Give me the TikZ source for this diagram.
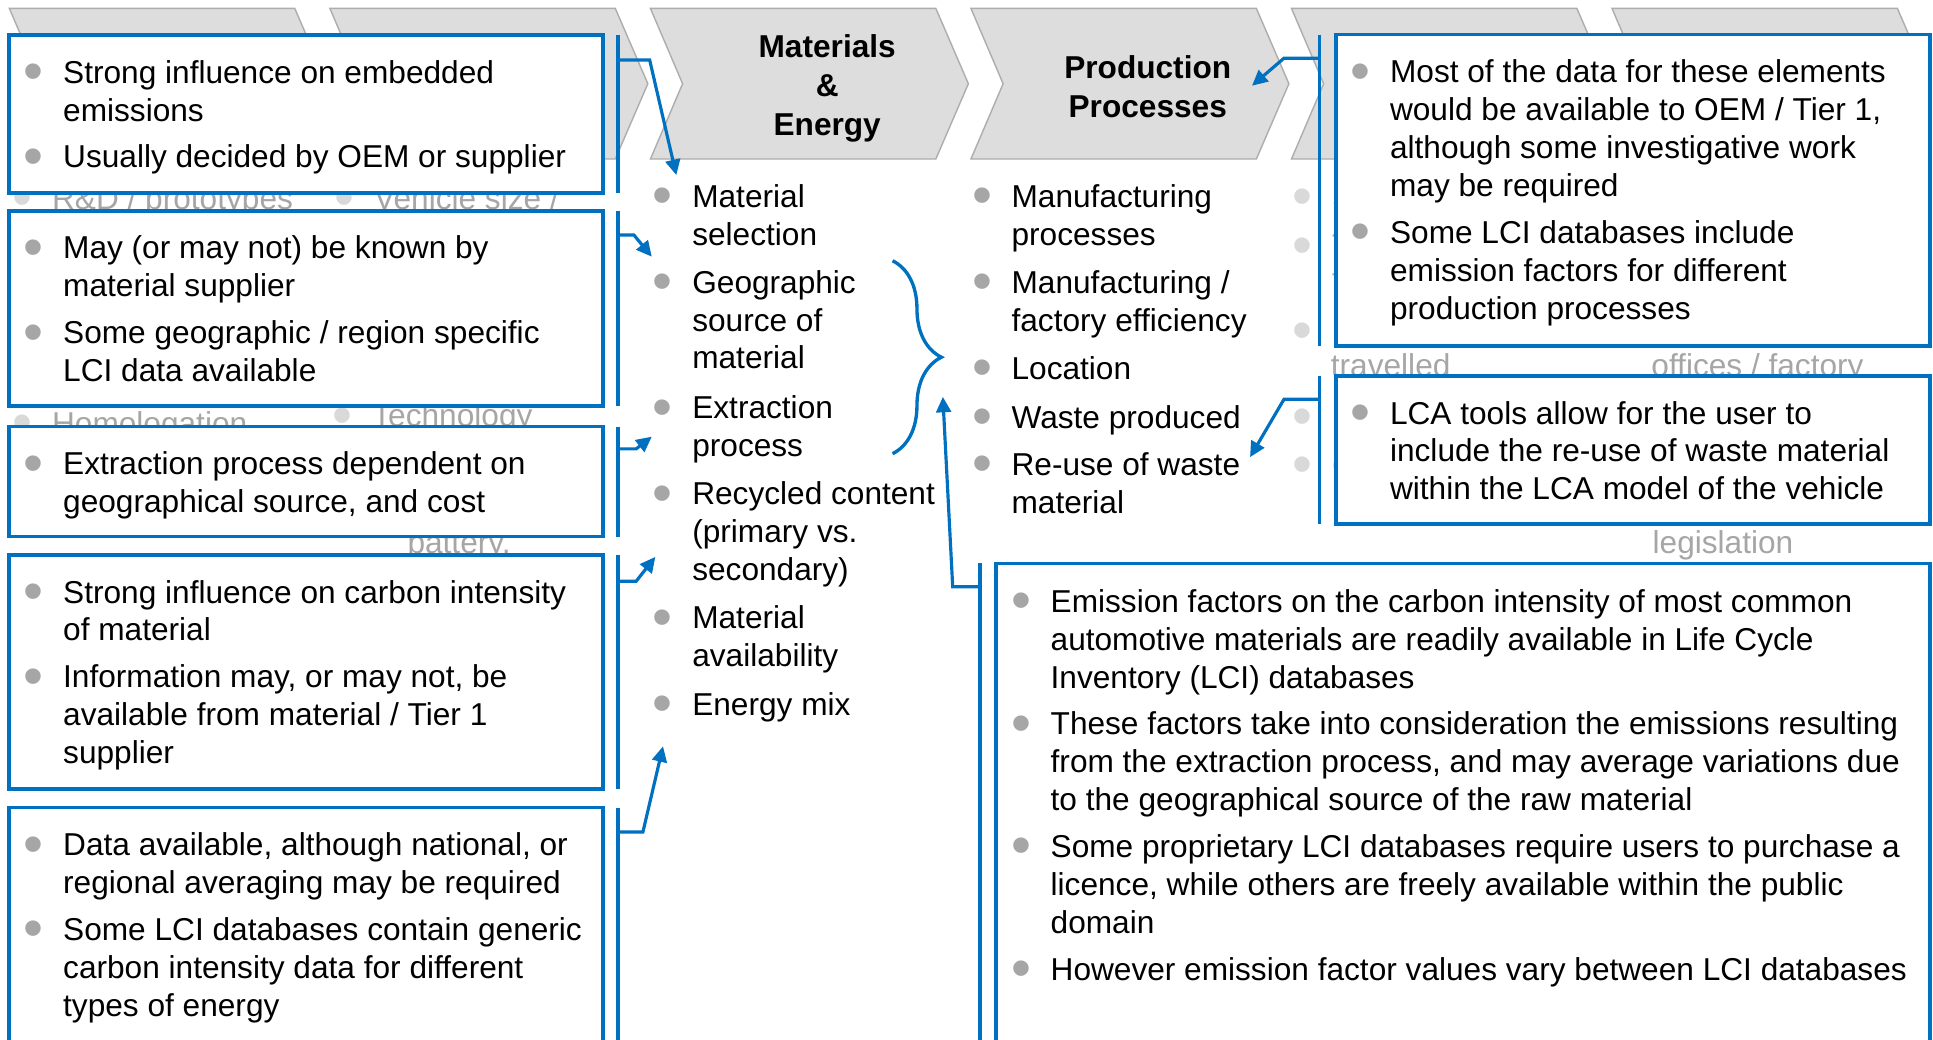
\documentclass[tikz,border=0pt]{standalone}
\usepackage{graphicx}
\usepackage{fontspec}
\setmainfont{Liberation Sans}
\usetikzlibrary{calc, arrows.meta, decorations.pathreplacing, fit, positioning}

\definecolor{lcablue}{HTML}{0070C0}
\definecolor{dotgray}{HTML}{A6A6A6}
\definecolor{fadetext}{HTML}{A6A6A6}
\definecolor{fadedot}{HTML}{D9D9D9}
\definecolor{chevfill}{HTML}{DDDDDD}
\definecolor{chevline}{HTML}{ADADAD}

\newcommand{\listfont}{\fontsize{9}{10.8}\selectfont}
\newcommand{\bul}[1][dotgray]{\rule{0pt}{7pt}\llap{\makebox[0pt]{\textcolor{#1}{\raisebox{-2.1pt}[0pt][0pt]{\scalebox{1.8}{•}}}}\hspace{8.4pt}}}

\begin{document}
\begin{tikzpicture}[x=0.012328cm, y=-0.012328cm,
    chev/.style={fill=chevfill, draw=chevline, line width=0.4pt},
    chevlabel/.style={align=center, inner sep=0pt, font=\fontsize{9}{11.1}\selectfont\bfseries},
    box/.style={draw=lcablue, line width=1.05pt, fill=white, inner sep=0pt, outer sep=0pt},
    txt/.style={anchor=north west, align=left, inner sep=0pt, font=\listfont},
    fade/.style={txt, text=fadetext},
    bar/.style={draw=lcablue, line width=1pt},
    link/.style={draw=lcablue, line width=0.9pt, -{Triangle[length=4.4pt,width=4.2pt]}},
    bracket/.style={draw=lcablue, line width=0.95pt, decorate, decoration={brace, amplitude=13.9pt}}]

\clip (0,0) rectangle (1568,843);
\fill[white] (0,0) rectangle (1568,843);

% stage chevrons
\foreach \i in {0,...,5}
  \draw[chev] ({7.6+260*\i},6.8) -- ++(231.5,0) -- ++(26.4,61.1) -- ++(-26.4,61.1)
    -- ++(-231.5,0) -- ++(26.1,-61.1) -- cycle;
\node[chevlabel] (matchev) at (671,71.3) {Materials\\\&\\Energy};
\node[chevlabel] (prodchev) at (931,70) {Production\\Processes};

% stage lists behind the boxes
\node[fade] (rnd) at (41.7,149) {\bul[fadedot]R\&D / prototypes};
\node[fade] (size) at (303,149) {\bul[fadedot]Vehicle size /};
\node[fade] (homol) at (41.7,332) {\bul[fadedot]Homologation};
\node[fade] (tech) at (301.5,325.6) {\bul[fadedot]Technology};
\node[fade] (batt) at (330,430) {battery,};
\node[fade] (use1) at (1080,148.5) {\bul[fadedot]S};
\node[fade] (use2) at (1080,187.7) {\bul[fadedot]T};
\node[fade] (use3) at (1080,218.8) {t};
\node[fade] (use4) at (1080,256.7) {\bul[fadedot]l};
\node[fade] (use5) at (1079,286) {travelled};
\node[fade] (use6) at (1080,327) {\bul[fadedot]l};
\node[fade] (use7) at (1080,366) {\bul[fadedot]C};
\node[fade] (eol1) at (1339,286) {offices / factory};
\node[fade] (eol2) at (1340,429.5) {legislation};

% note boxes
\node[box, fit={(7.2,28.4) (489,156.3)}] (selbox) {};
\node[box, fit={(7.2,170.9) (489,329.3)}] (geobox) {};
\node[box, fit={(7.2,346) (489,435.2)}] (extbox) {};
\node[box, fit={(7.2,450) (489,640.2)}] (recbox) {};
\node[box, fit={(7.2,655) (489,900)}] (mixbox) {};
\node[box, fit={(1083.5,28) (1565.6,280.4)}] (procbox) {};
\node[box, fit={(1083.5,304.8) (1565.6,425.3)}] (wastebox) {};
\node[box, fit={(808,457) (1565.6,900)}] (emisbox) {};

\node[txt] (seltext) at ($(selbox.north west)+(43.5,18.6)$)
  {\bul Strong influence on embedded\\emissions\\[2.5pt]
   \bul Usually decided by OEM or supplier};
\node[txt] (geotext) at ($(geobox.north west)+(43.5,18.6)$)
  {\bul May (or may not) be known by\\material supplier\\[2.5pt]
   \bul Some geographic / region specific\\LCI data available};
\node[txt] (exttext) at ($(extbox.north west)+(43.5,18.6)$)
  {\bul Extraction process dependent on\\geographical source, and cost};
\node[txt] (rectext) at ($(recbox.north west)+(43.5,18.6)$)
  {\bul Strong influence on carbon intensity\\of material\\[2.5pt]
   \bul Information may, or may not, be\\available from material / Tier 1\\supplier};
\node[txt] (mixtext) at ($(mixbox.north west)+(43.5,18.6)$)
  {\bul Data available, although national, or\\regional averaging may be required\\[2.5pt]
   \bul Some LCI databases contain generic\\carbon intensity data for different\\types of energy};
\node[txt] (proctext) at ($(procbox.north west)+(43.5,18.6)$)
  {\bul Most of the data for these elements\\would be available to OEM / Tier 1,\\although some investigative work\\may be required\\[2.5pt]
   \bul Some LCI databases include\\emission factors for different\\production processes};
\node[txt] (wastetext) at ($(wastebox.north west)+(43.5,18.6)$)
  {\bul LCA tools allow for the user to\\include the re-use of waste material\\within the LCA model of the vehicle};
\node[txt] (emistext) at ($(emisbox.north west)+(43.7,19)$)
  {\bul Emission factors on the carbon intensity of most common\\automotive materials are readily available in Life Cycle\\Inventory (LCI) databases\\[2.5pt]
   \bul These factors take into consideration the emissions resulting\\from the extraction process, and may average variations due\\to the geographical source of the raw material\\[2.5pt]
   \bul Some proprietary LCI databases require users to purchase a\\licence, while others are freely available within the public\\domain\\[2.5pt]
   \bul However emission factor values vary between LCI databases};

% stage items
\node[txt] (matsel) at (561,147.7) {\bul Material\\selection};
\node[txt] (geosrc) at (561,217.2) {\bul Geographic\\source of\\material};
\node[txt] (extproc) at (561,319.1) {\bul Extraction\\process};
\node[txt] (recyc) at (561,389) {\bul Recycled content\\(primary vs.\\secondary)};
\node[txt] (matavail) at (561,489.6) {\bul Material\\availability};
\node[txt] (enmix) at (561,559.5) {\bul Energy mix};
\node[txt] (manproc) at (820,147.7) {\bul Manufacturing\\processes};
\node[txt] (manfac) at (820,217.2) {\bul Manufacturing /\\factory efficiency};
\node[txt] (loc) at (820,287.2) {\bul Location};
\node[txt] (waste) at (820,326.7) {\bul Waste produced};
\node[txt] (reuse) at (820,365.1) {\bul Re-use of waste\\material};

% bars beside the boxes
\foreach \b in {selbox,geobox,extbox,recbox,mixbox}
  \draw[bar] ($(\b.north east)+(12.5,0)$) -- ($(\b.south east)+(12.5,0)$);
\foreach \b in {procbox,wastebox,emisbox}
  \draw[bar] ($(\b.north west)+(-13,0)$) -- ($(\b.south west)+(-13,0)$);

% connectors
\coordinate (selout) at ($(selbox.north east)+(12.5,20.3)$);
\coordinate (geoout) at ($(geobox.north east)+(12.5,19.7)$);
\coordinate (extout) at ($(extbox.north east)+(12.5,18.1)$);
\coordinate (recout) at ($(recbox.north east)+(12.5,21.5)$);
\coordinate (mixout) at ($(mixbox.north east)+(12.5,19.9)$);
\coordinate (procout) at ($(procbox.north west)+(-13,19.2)$);
\coordinate (wasteout) at ($(wastebox.north west)+(-13,19.1)$);
\coordinate (emisout) at ($(emisbox.north west)+(-13,19)$);
\coordinate (selin) at (548.6,142);
\coordinate (geoin) at (528.7,208.2);
\coordinate (extin) at (528.7,354.2);
\coordinate (recin) at (531.6,451.7);
\coordinate (mixin) at (537.8,605.4);
\coordinate (procin) at (1015.6,69.5);
\coordinate (wastein) at (1014,370.8);
\coordinate (emisin) at (764.8,321.9);

\draw[link] (selout) -- ++(25.5,0) -- (selin);
\draw[link] (geoout) -- ++(12.7,0) -- (geoin);
\draw[link] (extout) -- ++(14.5,0) -- (extin);
\draw[link] (recout) -- ++(14.5,0) -- (recin);
\draw[link] (mixout) -- ++(20,0) -- (mixin);
\draw[link] (procout) -- ++(-29,0) -- (procin);
\draw[link] (wasteout) -- ++(-29,0) -- (wastein);
\draw[link] (emisout) -- ++(-22.2,0) -- (emisin);

% brace over geographic source and extraction
\coordinate (bracetop) at (724,211.5);
\coordinate (bracebot) at (724,368);
\draw[bracket] (bracetop) -- (bracebot);
\end{tikzpicture}
\end{document}
